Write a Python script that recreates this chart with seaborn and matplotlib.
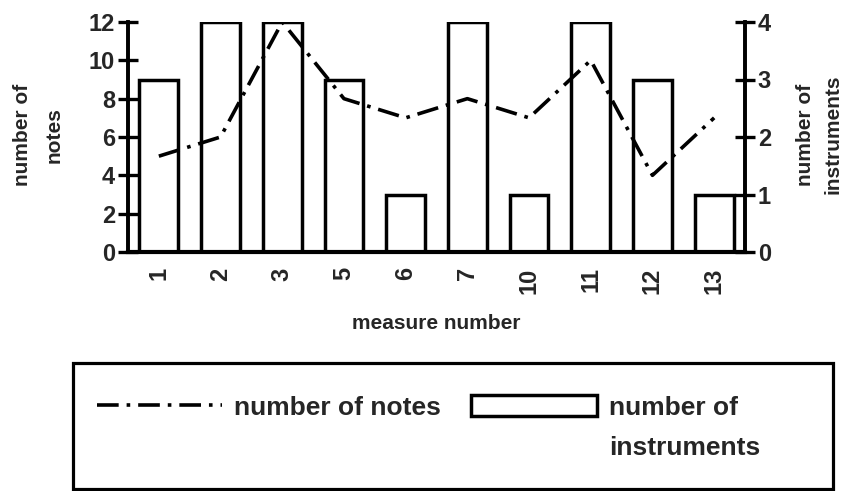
import numpy as np
import pandas as pd
import matplotlib
matplotlib.use("Agg")
import matplotlib.pyplot as plt
import seaborn as sns
from matplotlib.lines import Line2D
from matplotlib.patches import Patch, Rectangle
from matplotlib.ticker import FixedLocator

# ---- data ----
measures = ["1", "2", "3", "5", "6", "7", "10", "11", "12", "13"]
notes = [5, 6, 12, 8, 7, 8, 7, 10, 4, 7]
instruments = [3, 4, 4, 3, 1, 4, 1, 4, 3, 1]
left_ticks = [0, 2, 4, 6, 8, 10, 12]
right_ticks = [0, 1, 2, 3, 4]

sns.set_style("white")
plt.rcParams['font.family'] = ['Liberation Sans', 'DejaVu Sans']
plt.rcParams['font.weight'] = 'bold'
plt.rcParams['axes.labelweight'] = 'bold'

W, H = 843, 491
fig = plt.figure(figsize=(W / 100, H / 100), dpi=100)
ax = fig.add_axes([128 / W, 1 - 252 / H, 617 / W, 230 / H])
ax2 = ax.twinx()

df = pd.DataFrame({"measure": measures, "notes": notes,
                   "instruments": instruments,
                   "pos": np.arange(len(measures))})

dash = (0, (6, 2.2, 1, 2.2))
sns.barplot(data=df, x="measure", y="instruments", order=measures, ax=ax2,
            color="white", edgecolor="black", linewidth=2.5, width=0.63,
            saturation=1)
sns.lineplot(data=df, x="pos", y="notes", ax=ax, color="black", lw=2.6,
             linestyle=dash)

ax.set_zorder(ax2.get_zorder() + 1)
ax.patch.set_visible(False)

ax.set_xlim(-0.5, len(measures) - 0.5)
ax.set_ylim(0, 12)
ax2.set_ylim(0, 4)
ax.set_yticks(left_ticks)
ax2.set_yticks(right_ticks)
ax.set_xticks(np.arange(len(measures)))
ax.set_xticklabels(measures, rotation=90, fontsize=17, fontweight='bold')
ax.xaxis.set_minor_locator(FixedLocator(np.arange(0.5, len(measures) - 1, 1)))

ax.tick_params(axis='x', which='major', length=0, pad=11)
ax.tick_params(axis='x', which='minor', direction='inout', length=12, width=2.4,
               color='black')
ax.tick_params(axis='y', direction='inout', length=14.5, width=2.4, labelsize=17,
               pad=2, color='black', left=True)
ax2.tick_params(axis='y', direction='inout', length=14.5, width=2.4, labelsize=17,
                pad=2, color='black', right=True)
for lab in ax.get_yticklabels() + ax2.get_yticklabels():
    lab.set_fontweight('bold')

for a in (ax, ax2):
    a.spines['top'].set_visible(False)
    for s in ('left', 'right', 'bottom'):
        a.spines[s].set_linewidth(2.6)
        a.spines[s].set_color('black')
ax.spines['bottom'].set_linewidth(3)

ax.set_xlabel("measure number", fontsize=15, fontweight='bold')
ax.xaxis.set_label_coords(0.5, (252 - 314) / 230)
ax.set_ylabel("number of\nnotes", fontsize=15, fontweight='bold', linespacing=1.9)
ax.yaxis.set_label_coords((64 - 128) / 617, 0.51)
ax2.set_ylabel("number of\ninstruments", fontsize=15, fontweight='bold',
               linespacing=1.55)
ax2.yaxis.set_label_coords((796 - 128) / 617, 0.51)

# legend
handles = [
    Line2D([], [], color='black', lw=2.6, linestyle=dash),
    Line2D([], [], linestyle='none'),
    Patch(facecolor='white', edgecolor='black', linewidth=2.5),
    Line2D([], [], linestyle='none'),
]
labels = ["number of notes", "", "number of", "instruments"]
fig.legend(handles, labels, ncol=2, loc='upper left',
           bbox_to_anchor=(97 / W, 1 - 395 / H), frameon=False,
           prop={'family': 'Liberation Sans', 'weight': 'bold', 'size': 19},
           handlelength=4.75, handleheight=0.85, handletextpad=0.45,
           columnspacing=1.15, labelspacing=0.6, borderpad=0, borderaxespad=0)
fig.patches.append(Rectangle((73 / W, 2 / H), 760 / W, 126 / H,
                             transform=fig.transFigure, fill=False,
                             edgecolor='black', linewidth=2.3))

fig.savefig("out.png", dpi=100)
